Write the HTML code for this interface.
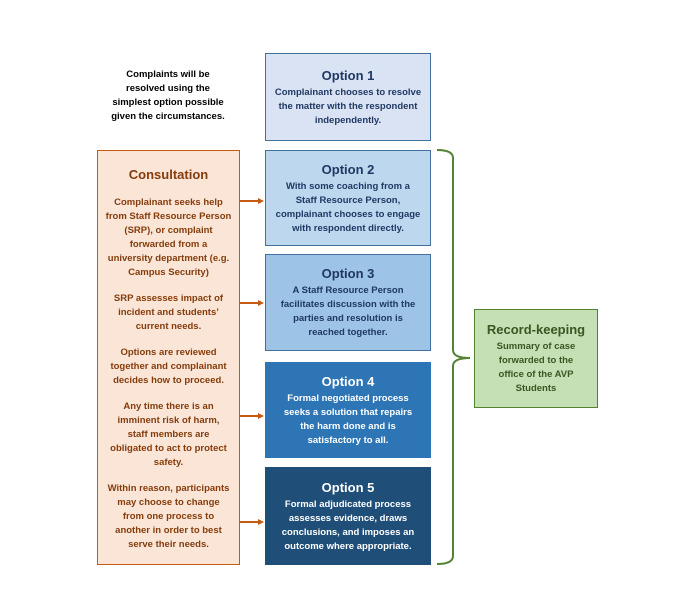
<!DOCTYPE html>
<html><head><meta charset="utf-8"><style>
body{margin:0;width:696px;height:612px;background:#fff;position:relative;font-family:"Liberation Sans",Arial,sans-serif;font-weight:bold;overflow:hidden}
.b{position:absolute;box-sizing:border-box;text-align:center;font-size:9.5px;line-height:14px;border:1.5px solid #41719c;display:flex;flex-direction:column;justify-content:center;align-items:center;white-space:nowrap}
.t{font-size:13px;line-height:18px;margin-bottom:1px}
.o{left:265px;width:166px;color:#1f3864}
</style></head><body>
<div style="position:absolute;left:90px;top:68px;width:156px;text-align:center;font-size:9.5px;line-height:14px;color:#000;white-space:nowrap">Complaints will be<br>resolved using the<br>simplest option possible<br>given the circumstances.</div>
<div class="b o" style="top:53px;height:88px;background:#dae3f3"><div class="t">Option 1</div>Complainant chooses to resolve<br>the matter with the respondent<br>independently.</div>
<div class="b o" style="top:150px;height:96px;background:#bdd7ee"><div class="t">Option 2</div>With some coaching from a<br>Staff Resource Person,<br>complainant chooses to engage<br>with respondent directly.</div>
<div class="b o" style="top:254px;height:97px;background:#9dc3e6"><div class="t">Option 3</div>A Staff Resource Person<br>facilitates discussion with the<br>parties and resolution is<br>reached together.</div>
<div class="b o" style="top:362px;height:96px;background:#2e75b6;color:#fff;border-color:#2e75b6"><div class="t">Option 4</div>Formal negotiated process<br>seeks a solution that repairs<br>the harm done and is<br>satisfactory to all.</div>
<div class="b o" style="top:467px;height:98px;background:#1f4e79;color:#fff;border-color:#1f4e79"><div class="t">Option 5</div>Formal adjudicated process<br>assesses evidence, draws<br>conclusions, and imposes an<br>outcome where appropriate.</div>
<div class="b" style="left:97px;top:150px;width:143px;height:415px;background:#fbe5d6;border-color:#c55a11;color:#843c0c;justify-content:flex-start;padding:15px 0 0">
<div class="t" style="margin-bottom:12px">Consultation</div>
<div>Complainant seeks help<br>from Staff Resource Person<br>(SRP), or complaint<br>forwarded from a<br>university department (e.g.<br>Campus Security)</div>
<div style="margin-top:12px">SRP assesses impact of<br>incident and students’<br>current needs.</div>
<div style="margin-top:12px">Options are reviewed<br>together and complainant<br>decides how to proceed.</div>
<div style="margin-top:12px">Any time there is an<br>imminent risk of harm,<br>staff members are<br>obligated to act to protect<br>safety.</div>
<div style="margin-top:12px">Within reason, participants<br>may choose to change<br>from one process to<br>another in order to best<br>serve their needs.</div>
</div>
<div class="b" style="left:474px;top:309px;width:124px;height:99px;background:#c5e0b4;border-color:#548235;color:#385723"><div class="t">Record-keeping</div>Summary of case<br>forwarded to the<br>office of the AVP<br>Students</div>
<svg style="position:absolute;left:0;top:0" width="696" height="612">
<g stroke="#c55a11" stroke-width="2" fill="#c55a11">
<line x1="240" y1="201" x2="259" y2="201"/><polygon points="258,198 264,201 258,204" stroke="none"/>
<line x1="240" y1="303" x2="259" y2="303"/><polygon points="258,300 264,303 258,306" stroke="none"/>
<line x1="240" y1="416" x2="259" y2="416"/><polygon points="258,413 264,416 258,419" stroke="none"/>
<line x1="240" y1="522" x2="259" y2="522"/><polygon points="258,519 264,522 258,525" stroke="none"/>
</g>
<path d="M437,150 Q453,150 453,158 L453,350 Q453,358 470,358 Q453,358 453,366 L453,556 Q453,564 437,564" fill="none" stroke="#548235" stroke-width="2"/>
</svg>
</body></html>
